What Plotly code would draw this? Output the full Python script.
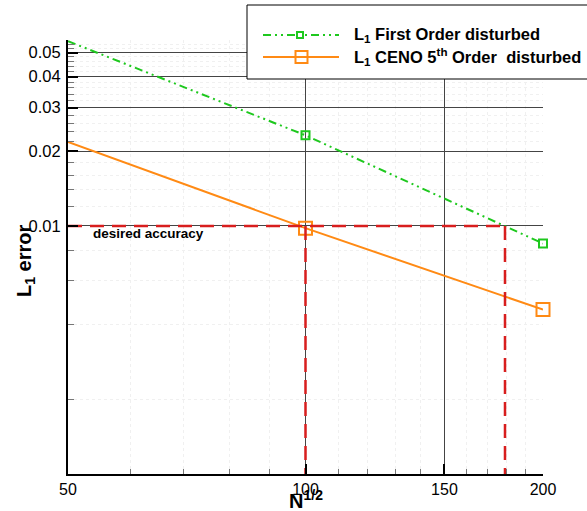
import math
import plotly.graph_objects as go

# ---- data ----
n_sqrt = [50, 100, 200]
l1_first_order = [0.0556, 0.0232, 0.0085]
l1_ceno5 = [0.0218, 0.0098, 0.0046]
desired_accuracy = 0.01
n_required = [100, 179]
x_ticks = [50, 100, 150, 200]
x_minor = [60, 70, 80, 90, 110, 120, 130, 140, 160, 170, 180, 190]
y_ticks = [0.01, 0.02, 0.03, 0.04, 0.05]
y_tick_text = ["0.01", "0.02", "0.03", "0.04", "0.05"]
y_minor = [0.002, 0.004, 0.006, 0.008, 0.012, 0.014, 0.016, 0.018,
           0.022, 0.024, 0.026, 0.028, 0.032, 0.034, 0.036, 0.038,
           0.042, 0.044, 0.046, 0.048, 0.052, 0.054]
x_range = [50, 200]
y_range = [0.001, 0.0562]

W, H = 587, 511
L, R, T, B = 68, 44, 40, 37
PW, PH = W - L - R, H - T - B

def px(xp):
    return (xp - L) / PW

def py(yp):
    return (H - B - yp) / PH

GREEN = "#1ec81e"
ORANGE = "#ff8a14"
RED = "#d81e1e"
FONT = "Liberation Sans, Arial, sans-serif"

# red guide lines built from data
rx, ry = [x_range[0], n_required[1], None], [desired_accuracy, desired_accuracy, None]
for nr in n_required:
    rx += [nr, nr, None]
    ry += [desired_accuracy, y_range[0], None]

fig = go.Figure()
fig.add_trace(go.Scatter(x=n_sqrt, y=l1_first_order, mode="lines+markers",
                         line=dict(color=GREEN, width=2, dash="8px,4px,2px,4px,2px,4px"),
                         marker=dict(symbol="square-open", size=8, color=GREEN,
                                     line=dict(width=2, color=GREEN)),
                         cliponaxis=False))
fig.add_trace(go.Scatter(x=n_sqrt, y=l1_ceno5, mode="lines+markers",
                         line=dict(color=ORANGE, width=2),
                         marker=dict(symbol="square-open", size=13, color=ORANGE,
                                     line=dict(width=2, color=ORANGE)),
                         cliponaxis=False))
fig.add_trace(go.Scatter(x=rx, y=ry, mode="lines",
                         line=dict(color=RED, width=2.5, dash="14px,8px")))

axis_common = dict(
    type="log", showline=True, linecolor="black", linewidth=2,
    ticks="inside", ticklen=10, tickwidth=2, tickcolor="black",
    showgrid=True, gridcolor="#444", gridwidth=1,
    zeroline=False,
)
minor_common = dict(tickmode="array", ticks="inside", tickcolor="#777", tickwidth=1,
                    showgrid=True, gridcolor="#f0f0f0", griddash="dot", gridwidth=1)
fig.update_xaxes(**axis_common, range=[math.log10(v) for v in x_range],
                 tickfont=dict(family=FONT, size=16, color="black"),
                 tickmode="array", tickvals=x_ticks, ticktext=[str(v) for v in x_ticks],
                 minor=dict(**minor_common, tickvals=x_minor, ticklen=5))
fig.update_yaxes(**axis_common, range=[math.log10(v) for v in y_range],
                 tickfont=dict(family=FONT, size=16.5, color="black"),
                 tickmode="array", tickvals=y_ticks, ticktext=y_tick_text,
                 ticklabelstandoff=2,
                 minor=dict(**minor_common, tickvals=y_minor, ticklen=6))

shapes = [
    dict(type="rect", xref="paper", yref="paper", x0=px(247), x1=px(600),
         y0=py(79), y1=py(5), line=dict(color="black", width=1), fillcolor="white",
         layer="above"),
    dict(type="line", xref="paper", yref="paper", x0=px(263), x1=px(339),
         y0=py(35), y1=py(35), line=dict(color=GREEN, width=2, dash="8px,4px,2px,4px,2px,4px"),
         layer="above"),
    dict(type="rect", xref="paper", yref="paper", x0=px(297), x1=px(303),
         y0=py(38), y1=py(32), line=dict(color=GREEN, width=2), fillcolor="white",
         layer="above"),
    dict(type="line", xref="paper", yref="paper", x0=px(263), x1=px(339),
         y0=py(57), y1=py(57), line=dict(color=ORANGE, width=2), layer="above"),
    dict(type="rect", xref="paper", yref="paper", x0=px(295.5), x1=px(307.5),
         y0=py(63), y1=py(51), line=dict(color=ORANGE, width=2), fillcolor="rgba(0,0,0,0)",
         layer="above"),
]

annotations = [
    dict(xref="paper", yref="paper", x=px(352), y=py(35), xanchor="left", yanchor="middle",
         text="<b>L<sub>1</sub> First Order disturbed</b>", showarrow=False,
         font=dict(family=FONT, size=16.5, color="black")),
    dict(xref="paper", yref="paper", x=px(352), y=py(57), xanchor="left", yanchor="middle",
         text="<b>L<sub>1</sub> CENO 5<sup>th</sup> Order&nbsp; disturbed</b>", showarrow=False,
         font=dict(family=FONT, size=16.5, color="black")),
    dict(xref="paper", yref="paper", x=px(91), y=py(234), xanchor="left", yanchor="middle",
         text="<b>desired accuracy</b>", showarrow=False,
         font=dict(family=FONT, size=13.5, color="black")),
    dict(xref="paper", yref="paper", x=px(25), y=py(261), xanchor="center", yanchor="middle",
         text="<b>L<sub>1</sub> error</b>", textangle=-90, showarrow=False,
         font=dict(family=FONT, size=20, color="black")),
    dict(xref="paper", yref="paper", x=0.5, y=py(514), xanchor="center", yanchor="bottom",
         text="<b>N<sup>1/2</sup></b>", showarrow=False,
         font=dict(family=FONT, size=20, color="black")),
]

fig.update_layout(
    width=W, height=H, margin=dict(l=L, r=R, t=T, b=B),
    paper_bgcolor="white", plot_bgcolor="white",
    showlegend=False, hovermode=False,
    shapes=shapes, annotations=annotations,
    font=dict(family=FONT, color="black"),
)

fig.write_html("out.html")
